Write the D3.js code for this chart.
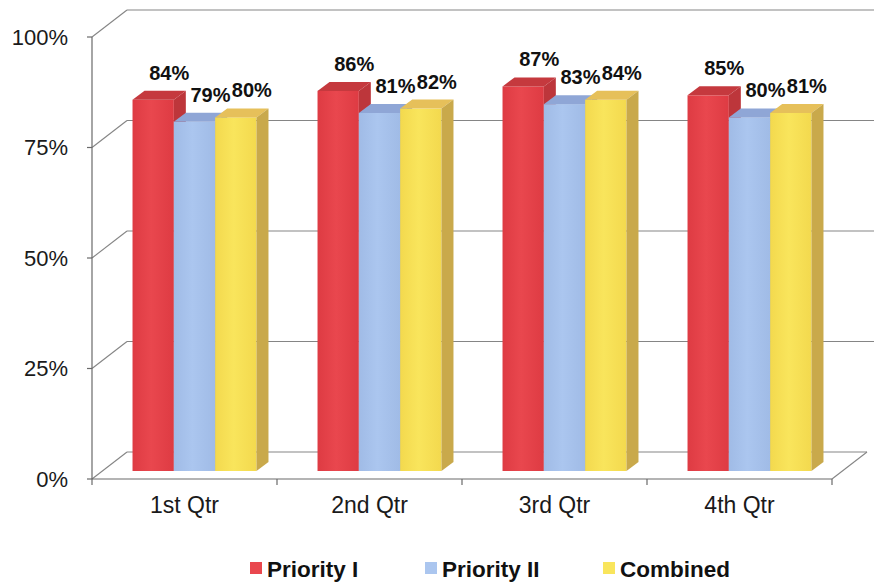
<!DOCTYPE html>
<html>
<head>
<meta charset="utf-8">
<script src="https://cdn.jsdelivr.net/npm/d3@7"></script>
<style>
  html, body { margin: 0; padding: 0; background: #ffffff; }
  svg { display: block; }
  text { font-family: "Liberation Sans", Arial, sans-serif; }
</style>
</head>
<body>
<div id="chart"></div>
<script>
// Quarterly percentages per priority group
const quarters = ["1st Qtr", "2nd Qtr", "3rd Qtr", "4th Qtr"];
const seriesNames = ["Priority I", "Priority II", "Combined"];
const priorityI = [84, 86, 87, 85];
const priorityII = [79, 81, 83, 80];
const combined = [80, 82, 84, 81];
const yTicks = [0, 25, 50, 75, 100];

const seriesValues = [priorityI, priorityII, combined];

// Face colours for each series: front, top, side
const palette = [
  { front: "#e9474e", edge: "#de3b43", top: "#c5393e", side: "#bd363b" },
  { front: "#abc6ef", edge: "#a0bbe6", top: "#8fa6d6", side: "#7f96c6" },
  { front: "#f9e55c", edge: "#f3d94e", top: "#e6c05a", side: "#c9a94b" }
];

const W = 874, H = 582;
const svg = d3.select("#chart").append("svg")
  .attr("width", W).attr("height", H);

// Front plane geometry
const x0 = 92, x1 = 832;
const wallDx = 35, wallDy = -27;      // depth of the plot box
const barDx = 10, barDy = -8;         // where the bars stand inside the box
const depthDx = 12, depthDy = -9;     // thickness of each bar

const yFront = d3.scaleLinear().domain([0, 100]).range([479, 37]);
const yBar = d3.scaleLinear().domain([0, 100]).range([479 + barDy, 37 + barDy]);

const xCat = d3.scaleBand().domain(quarters).range([x0, x1])
  .paddingInner(0.33).paddingOuter(0.165);
const xSer = d3.scaleBand().domain(seriesNames).range([0, xCat.bandwidth()]);

// Gradients for the bar fronts
const defs = svg.append("defs");
palette.forEach((c, i) => {
  const g = defs.append("linearGradient").attr("id", "grad" + i)
    .attr("x1", "0%").attr("x2", "100%").attr("y1", "0%").attr("y2", "0%");
  g.append("stop").attr("offset", "0%").attr("stop-color", c.edge);
  g.append("stop").attr("offset", "45%").attr("stop-color", c.front);
  g.append("stop").attr("offset", "100%").attr("stop-color", c.edge);
});

const gridColor = "#858585";
const walls = svg.append("g").attr("stroke", gridColor).attr("stroke-width", 1.1).attr("fill", "none");

// Back wall gridlines and left wall diagonals
yTicks.forEach(t => {
  const yf = yFront(t);
  walls.append("line")
    .attr("x1", x0).attr("y1", yf)
    .attr("x2", x0 + wallDx).attr("y2", yf + wallDy);
  walls.append("line")
    .attr("x1", x0 + wallDx).attr("y1", yf + wallDy)
    .attr("x2", t === 0 ? x1 + wallDx : W).attr("y2", yf + wallDy);
});

// Floor: right diagonal
walls.append("line")
  .attr("x1", x1).attr("y1", yFront(0))
  .attr("x2", x1 + wallDx).attr("y2", yFront(0) + wallDy);

const axisColor = "#6a6a6a";
const axes = svg.append("g").attr("stroke", axisColor).attr("stroke-width", 1.2);

// Value axis line and ticks
axes.append("line").attr("x1", x0).attr("x2", x0)
  .attr("y1", yFront(100)).attr("y2", yFront(0));
yTicks.forEach(t => {
  axes.append("line").attr("x1", x0 - 5).attr("x2", x0)
    .attr("y1", yFront(t)).attr("y2", yFront(t));
});

// Category axis line and ticks at boundaries
axes.append("line").attr("x1", x0).attr("x2", x1)
  .attr("y1", yFront(0)).attr("y2", yFront(0));
d3.range(quarters.length + 1).forEach(i => {
  const xb = x0 + i * xCat.step();
  axes.append("line").attr("x1", xb).attr("x2", xb)
    .attr("y1", yFront(0)).attr("y2", yFront(0) + 6);
});

// Value tick labels
svg.append("g").selectAll("text").data(yTicks).join("text")
  .attr("x", 68).attr("y", d => yFront(d))
  .attr("dy", "0.36em")
  .attr("text-anchor", "end")
  .attr("font-size", 22)
  .attr("fill", "#1a1a1a")
  .text(d => d + "%");

// Category labels
svg.append("g").selectAll("text").data(quarters).join("text")
  .attr("x", d => xCat(d) - (xCat.step() - xCat.bandwidth()) / 2 + xCat.step() / 2)
  .attr("y", 513)
  .attr("text-anchor", "middle")
  .attr("font-size", 23)
  .attr("fill", "#1a1a1a")
  .text(d => d);

// 3D bars
const bars = svg.append("g");
quarters.forEach((q, qi) => {
  seriesNames.forEach((s, si) => {
    const v = seriesValues[si][qi];
    const c = palette[si];
    const bx = xCat(q) + xSer(s) + barDx;
    const bw = xSer.bandwidth();
    const yT = yBar(v), yB = yBar(0);
    const g = bars.append("g");
    g.append("rect")
      .attr("x", bx).attr("y", yT)
      .attr("width", bw).attr("height", yB - yT)
      .attr("fill", `url(#grad${si})`);
    g.append("polygon")
      .attr("points", [
        [bx, yT], [bx + bw, yT],
        [bx + bw + depthDx, yT + depthDy], [bx + depthDx, yT + depthDy]
      ].map(p => p.join(",")).join(" "))
      .attr("fill", c.top);
    g.append("polygon")
      .attr("points", [
        [bx + bw, yT], [bx + bw + depthDx, yT + depthDy],
        [bx + bw + depthDx, yB + depthDy], [bx + bw, yB]
      ].map(p => p.join(",")).join(" "))
      .attr("fill", c.side);
  });
});

// Value labels above each bar
const labels = svg.append("g");
quarters.forEach((q, qi) => {
  seriesNames.forEach((s, si) => {
    const v = seriesValues[si][qi];
    labels.append("text")
      .attr("x", xCat(q) + xSer(s) + barDx + xSer.bandwidth() / 2 + 16)
      .attr("y", yBar(v) - 20)
      .attr("text-anchor", "middle")
      .attr("font-size", 20)
      .attr("font-weight", "bold")
      .attr("fill", "#111")
      .text(v + "%");
  });
});

// Legend
const legendX = [250, 425, 603];
const legend = svg.append("g");
seriesNames.forEach((s, i) => {
  legend.append("rect")
    .attr("x", legendX[i]).attr("y", 562)
    .attr("width", 12).attr("height", 12)
    .attr("fill", palette[i].front);
  legend.append("text")
    .attr("x", legendX[i] + 17).attr("y", 577)
    .attr("font-size", 22.5)
    .attr("font-weight", "bold")
    .attr("fill", "#111")
    .text(s);
});
</script>
</body>
</html>
